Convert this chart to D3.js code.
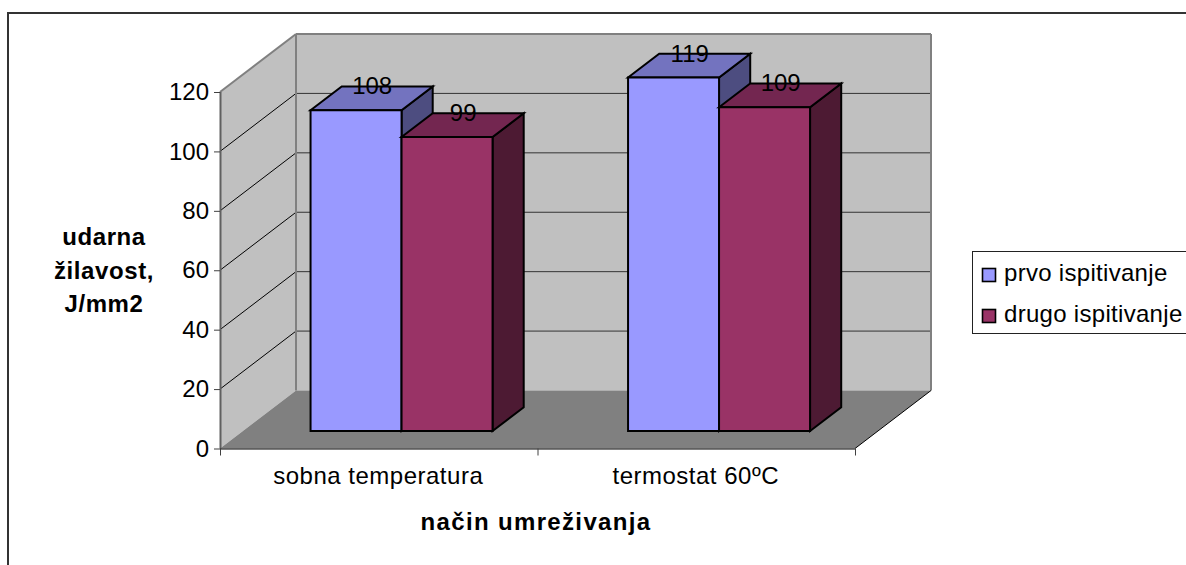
<!DOCTYPE html>
<html><head><meta charset="utf-8">
<script src="https://cdn.jsdelivr.net/npm/d3@7"></script>
<style>html,body{margin:0;padding:0;background:#fff;overflow:hidden}svg{display:block}text{font-family:"Liberation Sans",Arial,sans-serif;fill:#000}</style>
</head><body><svg id="c" width="1186" height="565"></svg>
<script>
const categories = ["sobna temperatura", "termostat 60ºC"];
const seriesNames = ["prvo ispitivanje", "drugo ispitivanje"];
const prvo = [108, 119];
const drugo = [99, 109];
const yTicks = [0, 20, 40, 60, 80, 100, 120];
const yTitle = ["udarna", "žilavost,", "J/mm2"];
const xTitle = "način umreživanja";
const faceColors = ["#9999ff", "#993366"];
const topColors = ["#7373bf", "#732650"];
const sideColors = ["#4d4d80", "#4d1a33"];

const svg = d3.select("#c");
const x = d3.scaleBand().domain(categories).range([220, 855]);
const y = d3.scaleLinear().domain([0, 120]).range([448.5, 92]);
const DX = 76, DY = -58;
const P = (px, py, t) => [px + DX * t, py + DY * t];
const poly = (pts, fill, stroke, sw) => svg.append("path")
  .attr("d", d3.line()(pts) + "Z").attr("fill", fill)
  .attr("stroke", stroke || "none").attr("stroke-width", sw || 0).attr("stroke-linejoin", "miter");
const line = (a, b, stroke, sw) => svg.append("line")
  .attr("x1", a[0]).attr("y1", a[1]).attr("x2", b[0]).attr("y2", b[1])
  .attr("stroke", stroke).attr("stroke-width", sw);

// chart frame
svg.append("rect").attr("x", 8).attr("y", 13).attr("width", 1300).attr("height", 700)
  .attr("fill", "#fff").attr("stroke", "#333").attr("stroke-width", 2);

const x0 = x.range()[0], x1 = x.range()[1], y0 = y(0), yT = y(120);
// walls
poly([P(x0, y0, 0), P(x0, yT, 0), P(x0, yT, 1), P(x0, y0, 1)], "#c0c0c0");
poly([P(x0, y0, 1), P(x0, yT, 1), P(x1, yT, 1), P(x1, y0, 1)], "#c0c0c0");
poly([P(x0, y0, 0), P(x0, y0, 1), P(x1, y0, 1), P(x1, y0, 0)], "#808080");
// gridlines
yTicks.slice(1, -1).forEach(v => {
  line(P(x0, y(v), 0), P(x0, y(v), 1), "#000", 1);
  line(P(x0, y(v), 1), P(x1, y(v), 1), "#333", 1);
});
// wall edges
line(P(x0, yT, 0), P(x0, yT, 1), "#808080", 2);
line(P(x0, yT, 1), P(x1, yT, 1), "#808080", 2);
line(P(x0, yT, 1), P(x0, y0, 1), "#808080", 2);
line(P(x1, yT, 1), P(x1, y0, 1), "#808080", 2);
line(P(x1, y0, 0), P(x1, y0, 1), "#000", 1);

// bars
const barW = 91, tF = 0.3, tB = 0.71, barStroke = 2;
const series = [prvo, drugo];
categories.forEach((c, ci) => {
  const cx = x(c) + x.bandwidth() / 2;
  [0, 1].forEach(si => {
    const v = series[si][ci];
    const l = cx + (si - 1) * barW, r = l + barW;
    const top = y(v), bot = y0;
    poly([P(r, bot, tF), P(r, top, tF), P(r, top, tB), P(r, bot, tB)], sideColors[si], "#000", barStroke);
    poly([P(l, top, tF), P(l, top, tB), P(r, top, tB), P(r, top, tF)], topColors[si], "#000", barStroke);
    poly([P(l, bot, tF), P(l, top, tF), P(r, top, tF), P(r, bot, tF)], faceColors[si], "#000", barStroke);
  });
});
// labels
categories.forEach((c, ci) => {
  const cx = x(c) + x.bandwidth() / 2;
  [0, 1].forEach(si => {
    const v = series[si][ci];
    const l = cx + (si - 1) * barW;
    const p = P(l + barW / 2, y(v), tB);
    svg.append("text").attr("x", p[0] - 15).attr("y", p[1] + 8).attr("text-anchor", "middle")
      .attr("font-size", 24).text(v);
  });
});
// axes
const yAxis = d3.axisLeft(y).tickValues(yTicks).tickSize(6).tickPadding(5);
const gy = svg.append("g").attr("transform", `translate(${x0},0)`).call(yAxis);
const xAxis = d3.axisBottom(d3.scalePoint().domain(d3.range(categories.length + 1)).range([x0, x1]))
  .tickSize(7).tickFormat("");
const gx = svg.append("g").attr("transform", `translate(0,${y0})`).call(xAxis);
gy.selectAll("text").attr("font-size", 24).attr("font-family", "Liberation Sans");
gy.selectAll("line").attr("stroke", "#404040");
gx.selectAll("line").attr("stroke", "#404040");
gy.select(".domain").attr("stroke", "#606060").attr("stroke-width", 2).attr("d", `M0.5,${y0}V${yT}`);
gx.select(".domain").attr("stroke", "#000").attr("stroke-width", 1).attr("d", `M${x0},0.5H${x1}`);
categories.forEach(c => svg.append("text").attr("x", x(c) + x.bandwidth() / 2 - 0.5).attr("y", 484)
  .attr("text-anchor", "middle").attr("font-size", 24).attr("letter-spacing", 0.5).text(c));
// titles
svg.append("text").attr("x", 536).attr("y", 530).attr("text-anchor", "middle")
  .attr("font-size", 24).attr("font-weight", "bold").attr("letter-spacing", 1.35).text(xTitle);
yTitle.forEach((t, i) => svg.append("text").attr("x", 104).attr("y", 245 + i * 33.5)
  .attr("text-anchor", "middle").attr("font-size", 24).attr("font-weight", "bold").attr("letter-spacing", 0.6).text(t));
// legend
svg.append("rect").attr("x", 972.5).attr("y", 251.5).attr("width", 300).attr("height", 82)
  .attr("fill", "#fff").attr("stroke", "#222").attr("stroke-width", 1);
seriesNames.forEach((s, i) => {
  svg.append("rect").attr("x", 982.5).attr("y", 268.5 + i * 41).attr("width", 13).attr("height", 13)
    .attr("fill", faceColors[i]).attr("stroke", "#000").attr("stroke-width", 1.6);
  svg.append("text").attr("x", 1004).attr("y", 281 + i * 41).attr("font-size", 24).attr("letter-spacing", 0.3).text(s);
});
</script></body></html>
